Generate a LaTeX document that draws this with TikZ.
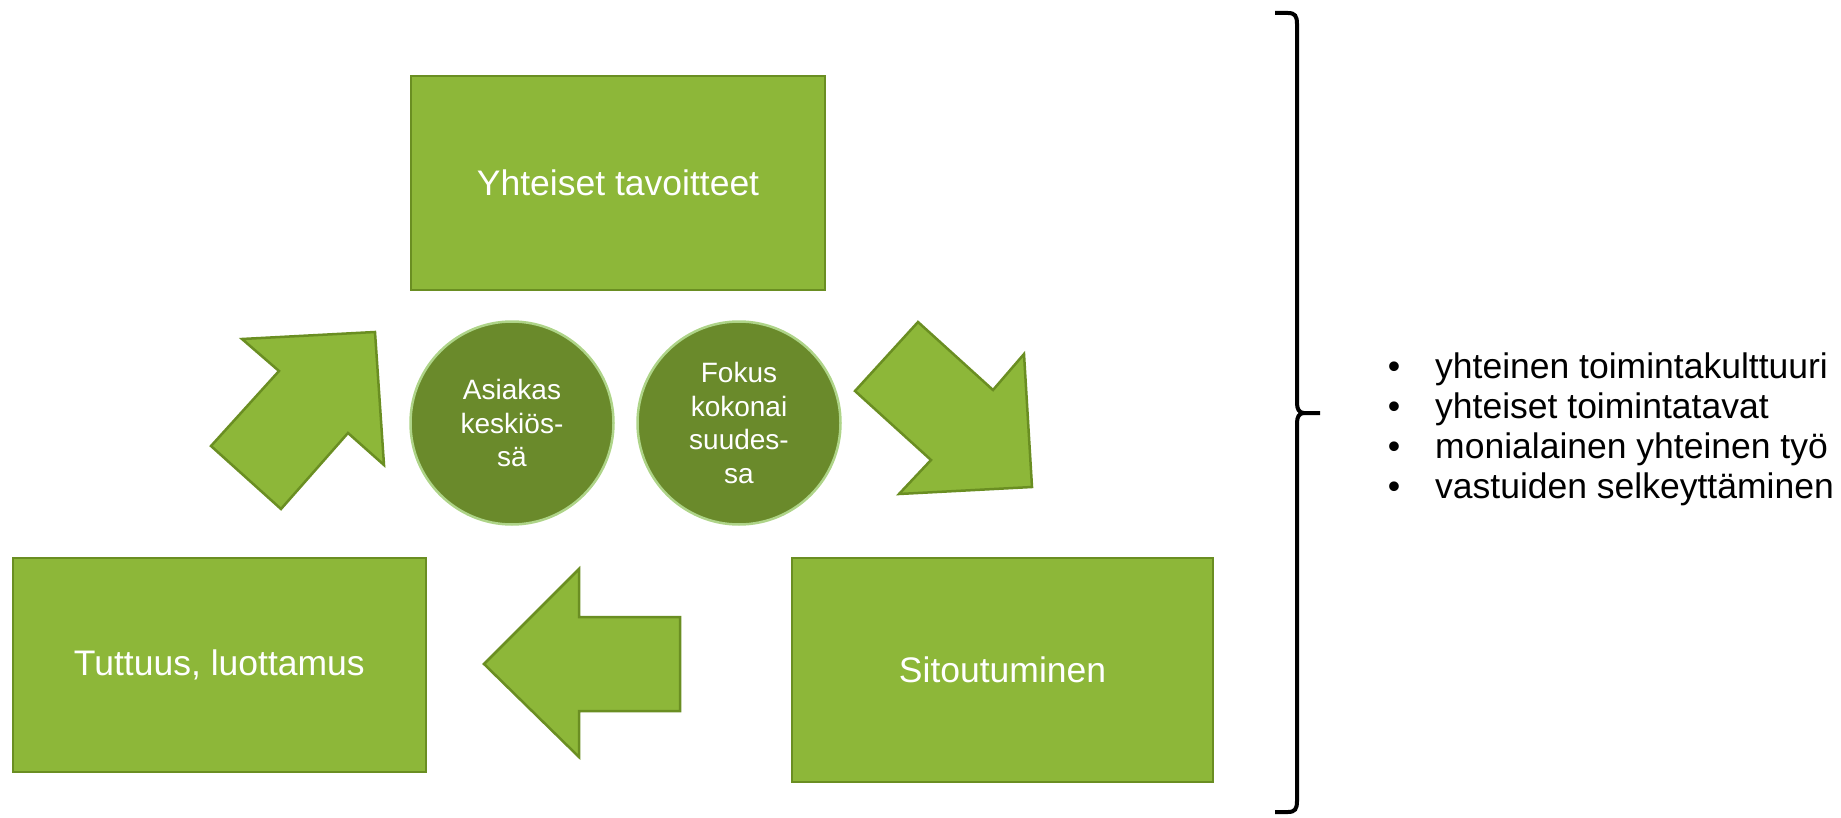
\documentclass[tikz,border=0pt]{standalone}
\usepackage{fontspec}
\setmainfont{Liberation Sans}
\definecolor{boxfill}{HTML}{8DB739}
\definecolor{boxline}{HTML}{6A8E22}
\definecolor{circfill}{HTML}{6A8A2B}
\definecolor{circline}{HTML}{AED488}
\tikzset{
  greenbox/.style={draw=boxline, fill=boxfill, line width=2pt, inner sep=0pt,
    text=white, font=\fontsize{35.5}{41}\selectfont},
  greencirc/.style={circle, draw=circline, fill=circfill, line width=2.5pt, inner sep=0pt,
    minimum size=203pt, text=white, align=center, font=\fontsize{28}{33.5}\selectfont},
  blockarrow/.style={draw=boxline, fill=boxfill, line width=2.5pt, line join=miter},
  bracestyle/.style={draw=black, line width=4pt, line cap=butt},
  bullettext/.style={anchor=base west, inner sep=0pt, font=\fontsize{35.5}{41}\selectfont},
  bulletdot/.style={anchor=base, inner sep=0pt, font=\fontsize{35.5}{41}\selectfont}
}
\begin{document}
\begin{tikzpicture}[x=1pt, y=-1pt]
\useasboundingbox (0,0) rectangle (1841,818);
% boxes
\node[greenbox, anchor=north west, minimum width=414.5pt, minimum height=213.7pt] (goals) at (409.8,75.1) {Yhteiset tavoitteet};
\node[greenbox, anchor=north west, minimum width=413.3pt, minimum height=214.9pt] (trust) at (11.7,556.5) {Tuttuus, luottamus};
\node[greenbox, anchor=north west, minimum width=420.3pt, minimum height=224.3pt] (commit) at (791.4,556.5) {Sitoutuminen};
% circles
\node[greencirc] (client) at (512,423) {Asiakas\\keskiös-\\sä};
\node[greencirc] (focus) at (739,423) {Fokus\\kokonai\\suudes-\\sa};
% block arrows
\draw[blockarrow] (211,446) -- (281,509) -- (348,433) -- (384,465) -- (375,332) -- (242,339) -- (279,371) -- cycle;
\draw[blockarrow] (918,322) -- (993,390) -- (1024,354) -- (1032,487) -- (899,494) -- (931,460) -- (855,391) -- cycle;
\draw[blockarrow] (484,664) -- (579,569) -- (579,617) -- (680,617) -- (680,711) -- (579,711) -- (579,757) -- cycle;
% brace
\coordinate (bracetop) at (1275,13);
\coordinate (bracetip) at (1320,413);
\coordinate (bracebot) at (1275,812);
\draw[bracestyle] (bracetop) -- (1288,13) .. controls (1295,13) and (1297,16) .. (1297,24)
  -- (1297,403) .. controls (1297,409) and (1299,413) .. (1304,413) -- (bracetip);
\draw[bracestyle] (1304,413) .. controls (1299,413) and (1297,417) .. (1297,423)
  -- (1297,801) .. controls (1297,809) and (1295,812) .. (1288,812) -- (bracebot);
% bullet list
\node[bulletdot] (b1) at (1394,378) {•};
\node[bulletdot] (b2) at (1394,418) {•};
\node[bulletdot] (b3) at (1394,458) {•};
\node[bulletdot] (b4) at (1394,498) {•};
\node[bullettext] (t1) at (1435,378) {yhteinen toimintakulttuuri};
\node[bullettext] (t2) at (1435,418) {yhteiset toimintatavat};
\node[bullettext] (t3) at (1435,458) {monialainen yhteinen työ};
\node[bullettext] (t4) at (1435,498) {vastuiden selkeyttäminen};
\end{tikzpicture}
\end{document}
